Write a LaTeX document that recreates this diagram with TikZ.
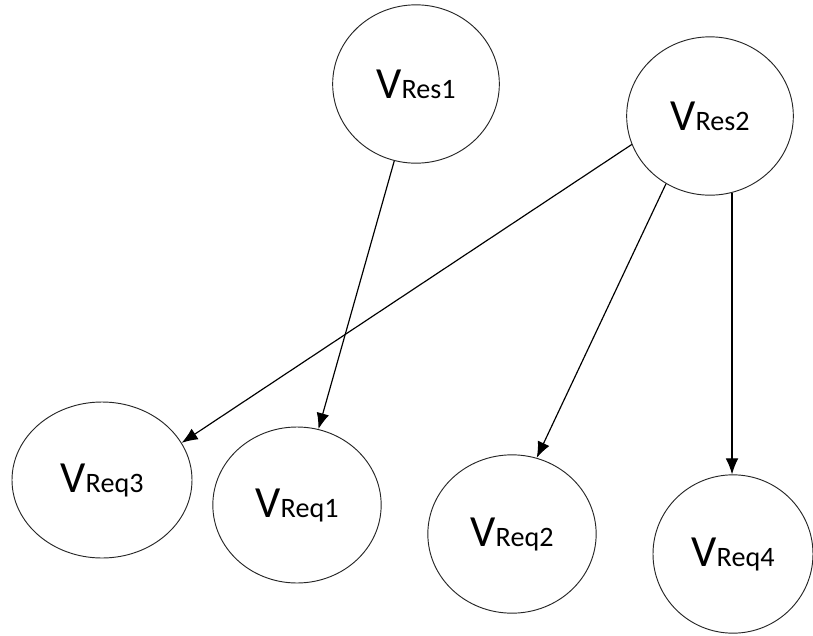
\documentclass[tikz,border=0pt]{standalone}
\usepackage{fontspec}
\setmainfont{Carlito}
\usetikzlibrary{shapes.geometric,arrows.meta}

\newcommand{\vlab}[1]{{\fontsize{38}{38}\selectfont V}{\fontsize{24}{24}\selectfont #1}}

\begin{document}
\begin{tikzpicture}[x=0.3mm,y=-0.3mm,
  vtx/.style={ellipse,draw=black!85,line width=0.8pt,inner sep=0pt,minimum width=50mm,minimum height=47.5mm},
  link/.style={line width=1pt,-{Latex[length=4.8mm,width=3.8mm]}}]
\useasboundingbox (0,0) rectangle (813,636);
% top row
\node[vtx] (VRes1) at (416,84) {\vlab{Res1}};
\node[vtx] (VRes2) at (710,116) {\vlab{Res2}};
% bottom row
\node[vtx,minimum width=54mm,minimum height=46.8mm] (VReq3) at (102,480) {\vlab{Req3}};
\node[vtx,minimum width=50.5mm,minimum height=46.8mm] (VReq1) at (297,505) {\vlab{Req1}};
\node[vtx,minimum width=50.5mm] (VReq2) at (512,534) {\vlab{Req2}};
\node[vtx,minimum width=48mm] (VReq4) at (733,554) {\vlab{Req4}};
% arrows
\draw[link] (VRes1) -- (VReq1);
\draw[link] (VRes2.200) -- (VReq3.25);
\draw[link] (VRes2.237) -- (VReq2.72);
\draw[link] (VRes2.286) -- (VRes2.286 |- VReq4.north);
\end{tikzpicture}
\end{document}
